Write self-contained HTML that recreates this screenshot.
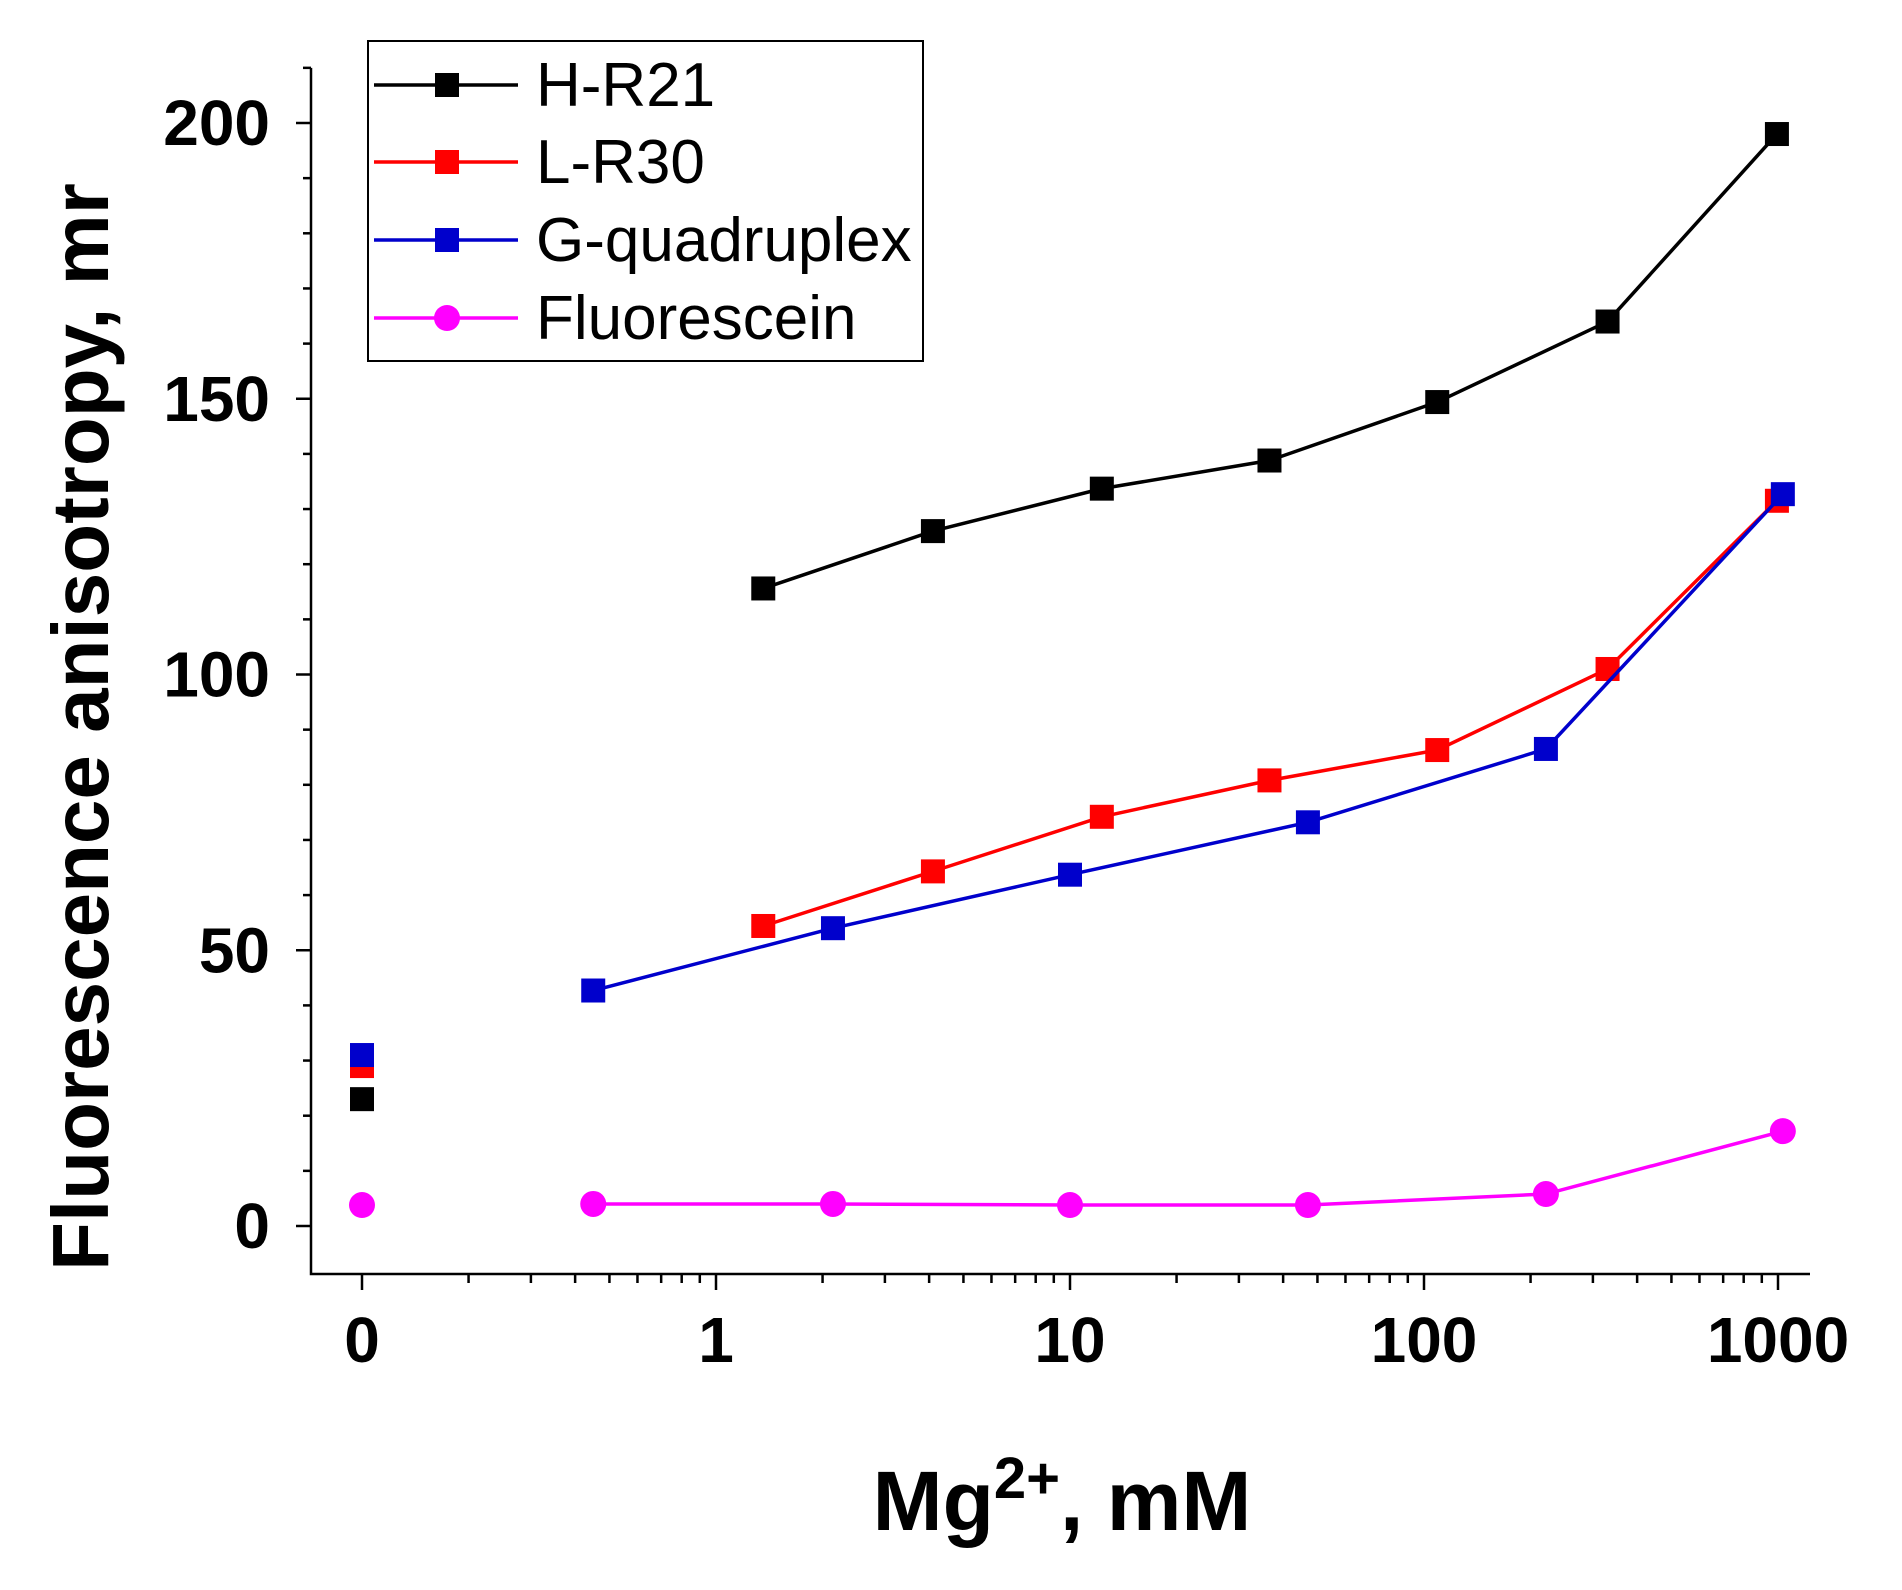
<!DOCTYPE html>
<html><head><meta charset="utf-8"><style>
body{margin:0;background:#fff}
svg{display:block;font-family:"Liberation Sans",Arial,sans-serif}
</style></head><body>
<svg id="chart" width="1902" height="1590" xmlns="http://www.w3.org/2000/svg"></svg>
<script>
const seriesNames=["H-R21","L-R30","G-quadruplex","Fluorescein"];
const seriesColors=["#000000","#ff0000","#0000cc","#ff00ff"];
const hX=[1.36,4.1,12.3,36.6,109,330,993];
const hY=[115.6,126,133.7,138.8,149.4,164,198];
const lX=[1.36,4.1,12.3,36.6,109,330,993];
const lY=[54.4,64.3,74.2,80.8,86.3,101,131.5];
const gX=[0.45,2.14,10,47,221,1032];
const gY=[42.7,54,63.7,73.2,86.5,132.7];
const fX=[0.45,2.14,10,47,221,1032];
const fY=[4,4,3.8,3.8,5.8,17.2];
const zeroY=[23,29,31,3.8];
const yTicks=[0,50,100,150,200];
const xTickVals=[1,10,100,1000];
const xTickLabels=["1","10","100","1000"];

const svg=document.getElementById('chart');
const NS="http://www.w3.org/2000/svg";
const X0=716,DEC=354,Y0=1226,YS=5.515;
function sx(v){return v<=0?X0-DEC:X0+DEC*Math.log10(v);}
function sy(v){return Y0-v*YS;}
function mk(t,a,p){const e=document.createElementNS(NS,t);for(const k in a)e.setAttribute(k,a[k]);(p||svg).appendChild(e);return e;}

let ax=mk('path',{d:`M311 ${sy(210)} V1274 H1810`,fill:'none',stroke:'#000','stroke-width':2.5});


for(let v=0;v<=210;v+=10){
  const major=v%50===0;
  const t=mk('line',{x1:311,x2:major?296:303,y1:sy(v),y2:sy(v),stroke:'#000','stroke-width':2.5});
  
  
}
yTicks.forEach(v=>{
  const t=mk('text',{x:270,y:sy(v)+22,'text-anchor':'end','font-size':64,'font-weight':'bold'});
  t.textContent=v;
  
  
});
for(let d=-1;d<=2;d++){for(let m=1;m<=9;m++){
  const v=m*Math.pow(10,d);const x=sx(v);
  const t=mk('line',{x1:x,x2:x,y1:1274,y2:m===1?1290:1283,stroke:'#000','stroke-width':2.5});
  
  
}}
let lt=mk('line',{x1:sx(1000),x2:sx(1000),y1:1274,y2:1290,stroke:'#000','stroke-width':2.5});


let z=mk('text',{x:sx(0),y:1362,'text-anchor':'middle','font-size':64,'font-weight':'bold'});z.textContent="0";


xTickVals.forEach((v,i)=>{
  const t=mk('text',{x:sx(v),y:1362,'text-anchor':'middle','font-size':64,'font-weight':'bold'});
  t.textContent=xTickLabels[i];
  
  
});
let yt=mk('text',{x:0,y:0,transform:'translate(108,727) rotate(-90)','text-anchor':'middle','font-size':80,'font-weight':'bold'});
yt.textContent="Fluorescence anisotropy, mr";


let xt=mk('text',{x:1062,y:1530,'text-anchor':'middle','font-size':84,'font-weight':'bold'});
xt.innerHTML='Mg<tspan dy="-32" font-size="58">2+</tspan><tspan dy="32">, mM</tspan>';



function marker(x,y,c,circle,name){
  const e=circle?mk('circle',{cx:x,cy:y,r:13,fill:c}):mk('rect',{x:x-12,y:y-12,width:24,height:24,fill:c});
  
  
}
const all=[[hX,hY],[lX,lY],[gX,gY],[fX,fY]];
all.forEach((s,i)=>{
  const pts=s[0].map((v,j)=>sx(v)+','+sy(s[1][j])).join(' ');
  const l=mk('polyline',{points:pts,fill:'none',stroke:seriesColors[i],'stroke-width':3.5});
  
  
  s[0].forEach((v,j)=>marker(sx(v),sy(s[1][j]),seriesColors[i],i===3,'point-'+seriesNames[i].toLowerCase()));
  marker(sx(0),sy(zeroY[i]),seriesColors[i],i===3,'zero-point-'+seriesNames[i].toLowerCase());
});
const lg=mk('g',{});


mk('rect',{x:368,y:41,width:555,height:320,fill:'#fff',stroke:'#000','stroke-width':2},lg);
const rows=[85,162,240,318];
seriesNames.forEach((n,i)=>{
  const g=mk('g',{},lg);
  
  
  mk('line',{x1:374,x2:518,y1:rows[i],y2:rows[i],stroke:seriesColors[i],'stroke-width':3.5},g);
  if(i===3)mk('circle',{cx:447,cy:rows[i],r:13,fill:seriesColors[i]},g);
  else mk('rect',{x:435,y:rows[i]-12,width:24,height:24,fill:seriesColors[i]},g);
  const t=mk('text',{x:536,y:rows[i]+21,'font-size':62},g);t.textContent=n;
});
</script>
</body></html>
